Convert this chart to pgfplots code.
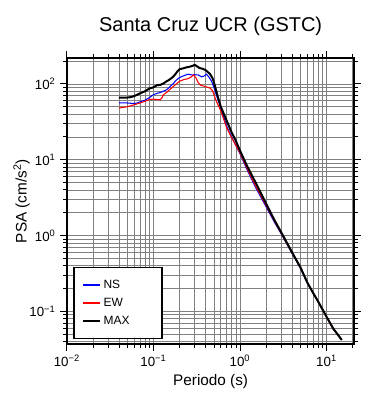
\documentclass[border=0pt]{standalone}
\usepackage{pgfplots}
\pgfplotsset{compat=1.18}
\usetikzlibrary{calc}
\usepackage{fontspec}
\setmainfont{Liberation Sans}
\begin{document}
\begin{tikzpicture}
\begin{loglogaxis}[
  name=ax, scale only axis, width=216pt, height=215pt,
  xmin=0.01, xmax=21, ymin=0.037, ymax=220,
  axis line style={line width=1.4pt},
  grid=both,
  major grid style={black!50, line width=0.5pt},
  minor grid style={black!50, line width=0.5pt},
  tick align=outside, tick pos=both,
  major tick length=5pt, minor tick length=3pt,
  every tick/.style={black, line width=0.6pt},
  xtick={0.01,0.1,1,10},
  xticklabels={10\textsuperscript{−2},10\textsuperscript{−1},10\textsuperscript{0},10\textsuperscript{1}},
  minor xtick={0.02,0.03,0.04,0.05,0.06,0.07,0.08,0.09,0.2,0.3,0.4,0.5,0.6,0.7,0.8,0.9,2,3,4,5,6,7,8,9,20},
  ytick={0.1,1,10,100},
  yticklabels={10\textsuperscript{−1},10\textsuperscript{0},10\textsuperscript{1},10\textsuperscript{2}},
  minor ytick={0.04,0.05,0.06,0.07,0.08,0.09,0.2,0.3,0.4,0.5,0.6,0.7,0.8,0.9,2,3,4,5,6,7,8,9,20,30,40,50,60,70,80,90,200},
  tick label style={font=\fontsize{10}{12}\selectfont},
  xlabel={Periodo (s)},
  ylabel={PSA (cm/s\textsuperscript{2})},
  label style={font=\fontsize{11.5}{13}\selectfont},
  xlabel style={at={(axis description cs:0.5,0)}, anchor=base, yshift=-31pt},
  ylabel style={at={(axis description cs:-0.14,0.5)}, anchor=base},
  title={Santa Cruz UCR (GSTC)},
  title style={font=\fontsize{15}{17}\selectfont, at={(axis description cs:0.5,1)}, anchor=base, yshift=13.5pt},
  legend style={at={(0.022,0.017)}, anchor=south west, draw=black, line width=1pt, fill=white,
    font=\fontsize{9}{11}\selectfont, inner xsep=6pt, inner ysep=7pt, row sep=2pt},
  legend cell align=left,
  legend image code/.code={\draw[#1, line width=1.5pt] (0cm,0cm) -- (0.45cm,0cm);},
]
\addplot[blue, line width=0.8pt] coordinates {
(0.04,56) (0.05,56) (0.06,55) (0.065,56) (0.07,58) (0.08,61) (0.09,66) (0.1,72)
(0.11,75) (0.12,77) (0.13,80) (0.14,83) (0.15,88) (0.16,95) (0.17,101) (0.18,110)
(0.2,121) (0.22,127) (0.25,134) (0.28,131) (0.3,132) (0.33,131) (0.36,124) (0.38,126)
(0.41,134) (0.44,122) (0.47,108) (0.5,90) (0.53,73) (0.6,48) (0.7,28) (0.8,20)
(1.0,12) (1.2,7.5) (1.5,4.4) (2,2.4) (2.5,1.5) (3,1.05) (4,0.58) (5,0.37)
(6,0.235) (8,0.133) (10,0.084) (12,0.058) (15,0.042)
};
\addlegendentry{NS}
\addplot[red, line width=0.8pt] coordinates {
(0.04,48) (0.05,50) (0.06,53) (0.07,56) (0.08,59) (0.09,62) (0.1,63) (0.11,62)
(0.12,62) (0.125,65) (0.13,72) (0.14,76) (0.15,82) (0.16,87) (0.18,98) (0.2,108)
(0.22,113) (0.25,117) (0.27,122) (0.29,131) (0.31,120) (0.33,103) (0.35,96) (0.4,92)
(0.45,88) (0.48,82) (0.5,72) (0.53,60) (0.6,44) (0.7,26.6) (0.8,19.5) (1.0,12.3)
(1.2,7.8) (1.5,4.6) (2,2.5) (2.5,1.55) (3,1.07) (4,0.59) (5,0.375) (6,0.237)
(8,0.134) (10,0.084) (12,0.058) (15,0.042)
};
\addlegendentry{EW}
\addplot[black, line width=1.5pt] coordinates {
(0.04,66) (0.045,66) (0.05,66) (0.055,67) (0.06,69) (0.065,72) (0.07,75) (0.08,80)
(0.09,87) (0.1,90) (0.11,96) (0.12,97) (0.13,101) (0.14,107) (0.15,112) (0.16,118)
(0.17,125) (0.18,135) (0.19,147) (0.2,156) (0.22,160) (0.24,165) (0.26,168) (0.28,172)
(0.3,178) (0.32,170) (0.34,162) (0.37,158) (0.4,152) (0.45,135) (0.48,120) (0.5,105)
(0.53,82) (0.56,65) (0.6,50) (0.7,33) (0.8,23) (0.9,17.5) (1.0,13.2) (1.2,8.4)
(1.5,5.1) (2,2.65) (2.5,1.6) (3,1.1) (4,0.6) (5,0.38) (6,0.24) (7,0.175)
(8,0.135) (10,0.085) (12,0.059) (15,0.042)
};
\addlegendentry{\makebox[36pt][l]{MAX}}
\end{loglogaxis}
\pgfresetboundingbox
\path[use as bounding box] ($(ax.south west)+(-50.25pt,-42pt)$) rectangle ($(ax.north east)+(26.25pt,43.5pt)$);
\end{tikzpicture}
\end{document}
